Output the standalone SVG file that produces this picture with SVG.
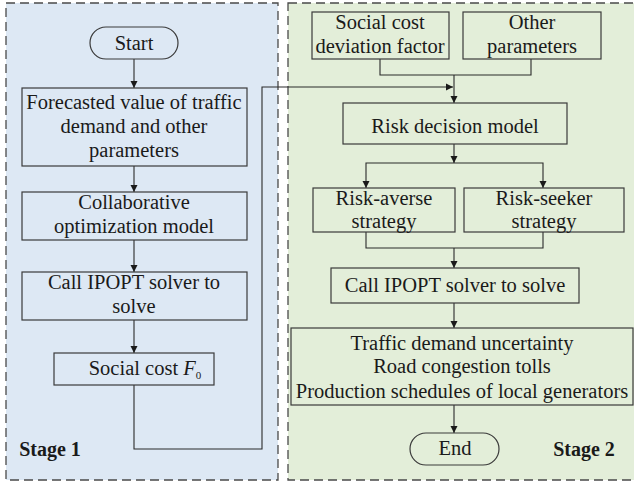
<svg xmlns="http://www.w3.org/2000/svg" width="634" height="485" viewBox="0 0 634 485">
  <defs>
    <marker id="arrow" viewBox="0 0 10 10" refX="10" refY="5" markerWidth="7" markerHeight="9" markerUnits="userSpaceOnUse" orient="auto">
      <path d="M0,0 L10,5 L0,10 z" fill="#1a1a1a"/>
    </marker>
    <style>
      .panel { stroke: #4a4a4a; stroke-width: 1.3; stroke-dasharray: 9 5; }
      .box { fill: none; stroke: #3a3a3a; stroke-width: 1.2; }
      .line { fill: none; stroke: #2a2a2a; stroke-width: 1.1; }
      .arr { marker-end: url(#arrow); }
      text { font-family: 'Liberation Serif', 'DejaVu Serif', serif; font-size: 20.5px; fill: #1a1a1a; text-anchor: middle; }
      .stage { font-weight: bold; font-size: 20px; }
    </style>
  </defs>
  <rect width="634" height="485" fill="#ffffff"/>

  <!-- Stage panels -->
  <g id="stage1">
    <rect class="panel" x="6" y="3" width="272" height="477" fill="#dde8f4"/>
    <text class="stage" x="50" y="456">Stage 1</text>
  </g>
  <g id="stage2">
    <rect class="panel" x="288" y="3" width="360" height="477" fill="#e3eed9"/>
    <text class="stage" x="584" y="456">Stage 2</text>
  </g>

  <!-- Connectors -->
  <g id="connectors">
    <line class="line arr" x1="134" y1="59" x2="134" y2="88"/>
    <line class="line arr" x1="134" y1="166" x2="134" y2="192"/>
    <line class="line arr" x1="134" y1="240" x2="134" y2="272"/>
    <line class="line arr" x1="134" y1="320" x2="134" y2="353"/>
    <polyline class="line arr" points="134,385 134,449 262,449 262,87 453,87"/>
    <polyline class="line" points="380,59 380,75 531,75 531,59"/>
    <line class="line arr" x1="454" y1="75" x2="454" y2="103"/>
    <line class="line arr" x1="454" y1="144" x2="454" y2="163"/>
    <polyline class="line arr" points="454,163 366,163 366,188"/>
    <polyline class="line arr" points="454,163 543,163 543,188"/>
    <polyline class="line" points="366,232 366,248 543,248 543,232"/>
    <line class="line arr" x1="454" y1="248" x2="454" y2="268"/>
    <line class="line arr" x1="454" y1="303" x2="454" y2="328"/>
    <line class="line arr" x1="454" y1="405" x2="454" y2="433"/>
  </g>

  <!-- Stage 1 nodes -->
  <g id="start">
    <rect class="box" x="90" y="27" width="88" height="32" rx="16" ry="16"/>
    <text x="134" y="50">Start</text>
  </g>
  <g id="forecast">
    <rect class="box" x="22" y="88" width="225" height="78"/>
    <text x="134" y="109">Forecasted value of traffic</text>
    <text x="134" y="133">demand and other</text>
    <text x="134" y="157">parameters</text>
  </g>
  <g id="collab">
    <rect class="box" x="22" y="192" width="225" height="48"/>
    <text x="134" y="209">Collaborative</text>
    <text x="134" y="233">optimization model</text>
  </g>
  <g id="ipopt1">
    <rect class="box" x="22" y="272" width="225" height="48"/>
    <text x="134" y="289">Call IPOPT solver to</text>
    <text x="134" y="313">solve</text>
  </g>
  <g id="socialcost">
    <rect class="box" x="54" y="353" width="160" height="32"/>
    <text x="145" y="375">Social cost <tspan font-style="italic">F</tspan><tspan font-size="11" dy="4">0</tspan></text>
  </g>

  <!-- Stage 2 nodes -->
  <g id="deviation">
    <rect class="box" x="312" y="12" width="137" height="47"/>
    <text x="380" y="29">Social cost</text>
    <text x="380" y="53">deviation factor</text>
  </g>
  <g id="otherparams">
    <rect class="box" x="463" y="12" width="138" height="47"/>
    <text x="532" y="29">Other</text>
    <text x="532" y="53">parameters</text>
  </g>
  <g id="riskmodel">
    <rect class="box" x="343" y="103" width="224" height="41"/>
    <text x="455" y="133">Risk decision model</text>
  </g>
  <g id="averse">
    <rect class="box" x="313" y="188" width="142" height="44"/>
    <text x="384" y="205">Risk-averse</text>
    <text x="384" y="228">strategy</text>
  </g>
  <g id="seeker">
    <rect class="box" x="464" y="188" width="160" height="44"/>
    <text x="544" y="205">Risk-seeker</text>
    <text x="544" y="228">strategy</text>
  </g>
  <g id="ipopt2">
    <rect class="box" x="331" y="268" width="248" height="35"/>
    <text x="455" y="292">Call IPOPT solver to solve</text>
  </g>
  <g id="results">
    <rect class="box" x="291" y="328" width="342" height="77"/>
    <text x="462" y="350">Traffic demand uncertainty</text>
    <text x="462" y="373">Road congestion tolls</text>
    <text x="462" y="398">Production schedules of local generators</text>
  </g>
  <g id="end">
    <rect class="box" x="410" y="433" width="89" height="32" rx="16" ry="16"/>
    <text x="455" y="455">End</text>
  </g>
</svg>
